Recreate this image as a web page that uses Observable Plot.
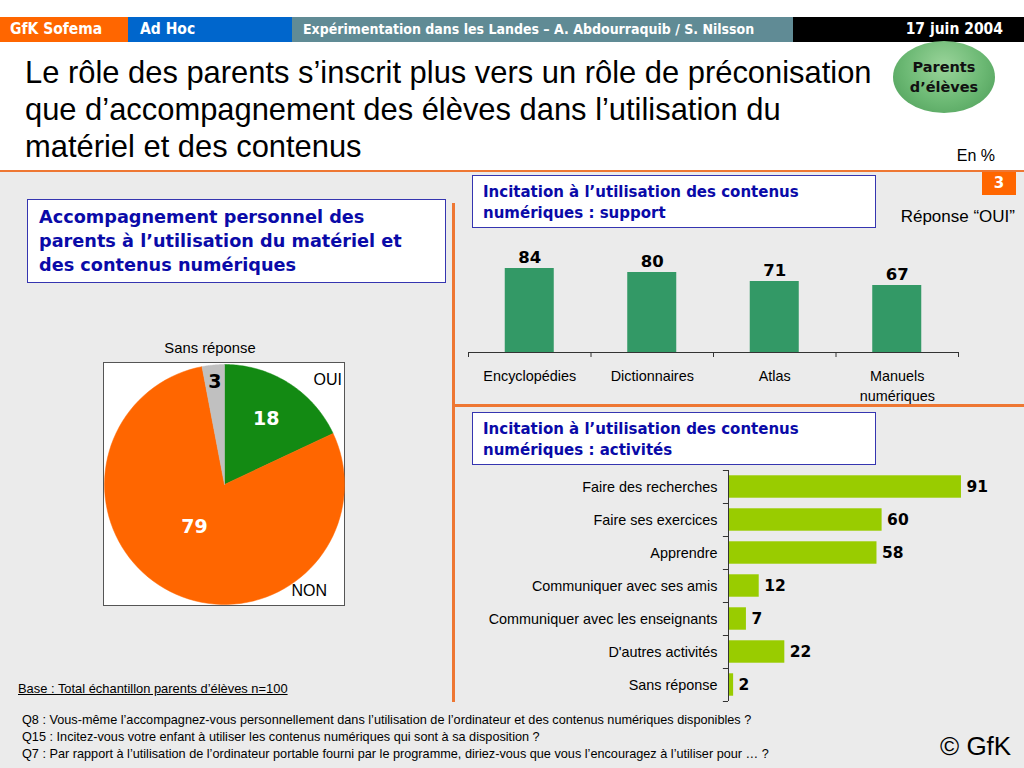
<!DOCTYPE html>
<html><head><meta charset="utf-8">
<script src="https://cdn.jsdelivr.net/npm/d3@7"></script>
<script src="https://cdn.jsdelivr.net/npm/@observablehq/plot@0.6"></script>
<style>
body{margin:0;background:#fff;}
#slide{position:relative;width:1024px;height:768px;overflow:hidden;background:#fff;font-family:"Liberation Sans",Arial,sans-serif;}
.abs{position:absolute;}
.hdr{position:absolute;top:17px;height:25px;line-height:25px;color:#fff;font-family:"DejaVu Sans Condensed","DejaVu Sans",sans-serif;font-weight:bold;font-size:15.5px;white-space:nowrap;}
.box{position:absolute;background:#fff;border:1px solid #3535b0;color:#0a0aa8;font-family:"DejaVu Sans",Verdana,sans-serif;font-weight:bold;box-sizing:border-box;}
.plot{position:absolute;}
</style></head>
<body>
<div id="slide">
  <div class="hdr" style="left:0;width:128px;background:#ff6600;padding-left:10px;box-sizing:border-box;">GfK Sofema</div>
  <div class="hdr" style="left:128px;width:164px;background:#0066cc;padding-left:12px;box-sizing:border-box;">Ad Hoc</div>
  <div class="hdr" style="left:292px;width:501px;background:#608b95;padding-left:11px;box-sizing:border-box;font-size:14px;">Expérimentation dans les Landes – A. Abdourraquib / S. Nilsson</div>
  <div class="hdr" style="left:793px;width:231px;background:#000;text-align:right;padding-right:21px;box-sizing:border-box;">17 juin 2004</div>

  <div class="abs" style="left:25px;top:54px;font-size:30.9px;line-height:37px;color:#000;white-space:nowrap;">Le rôle des parents s’inscrit plus vers un rôle de préconisation<br>que d’accompagnement des élèves dans l’utilisation du<br>matériel et des contenus</div>

  <div class="abs" style="left:893px;top:41px;width:102px;height:72px;border-radius:50%;background:radial-gradient(ellipse at 50% 35%,#9ad49a 0%,#6bb873 55%,#4a9a55 100%);display:flex;align-items:center;justify-content:center;text-align:center;font-family:'DejaVu Sans',sans-serif;font-weight:bold;font-size:14.5px;line-height:20px;color:#111;">Parents<br>d’élèves</div>

  <div class="abs" style="right:29px;top:147px;font-size:16px;color:#000;">En %</div>

  <div class="abs" style="left:0;top:170px;width:1024px;height:598px;background:#ebebeb;border-top:2px solid #ee7733;box-sizing:border-box;"></div>
  <div class="abs" style="left:452px;top:203px;width:3px;height:499px;background:#ee7733;"></div>
  <div class="abs" style="left:453px;top:404px;width:571px;height:3px;background:#ee7733;"></div>

  <div class="abs" style="left:982px;top:172px;width:34px;height:23px;background:#ff6600;color:#fff;font-family:'DejaVu Sans',sans-serif;font-weight:bold;font-size:15px;line-height:23px;text-align:center;">3</div>
  <div class="abs" style="right:9px;top:207px;font-size:17px;color:#000;">Réponse “OUI”</div>

  <div class="box" style="left:27px;top:199px;width:419px;height:84px;padding:5px 0 0 11px;font-size:17.7px;line-height:24px;">Accompagnement personnel des<br>parents à l’utilisation du matériel et<br>des contenus numériques</div>

  <div class="box" style="left:472px;top:175px;width:404px;height:53px;padding:6px 0 0 10px;font-size:15px;line-height:21px;">Incitation à l’utilisation des contenus<br>numériques : support</div>

  <div class="box" style="left:472px;top:412px;width:404px;height:53px;padding:6px 0 0 10px;font-size:15px;line-height:21px;">Incitation à l’utilisation des contenus<br>numériques : activités</div>

  <div class="abs" style="left:103px;top:362px;width:242px;height:244px;background:#fff;border:1px solid #555;box-sizing:border-box;"></div>
  <div class="abs" style="left:120px;top:340px;width:180px;text-align:center;font-size:14.8px;color:#000;">Sans réponse</div>
  <div class="abs" style="left:290px;top:371px;width:52px;text-align:right;font-size:16px;color:#000;">OUI</div>
  <div class="abs" style="left:270px;top:582px;width:57px;text-align:right;font-size:16px;color:#000;">NON</div>

  <div id="pie" class="plot" style="left:104px;top:364px;"></div>
  <div id="support" class="plot" style="left:458px;top:240px;"></div>
  <div id="acts" class="plot" style="left:460px;top:465px;"></div>

  <div class="abs" style="left:18px;top:681px;font-size:12.9px;text-decoration:underline;color:#000;">Base : Total échantillon parents d’élèves n=100</div>
  <div class="abs" style="left:22px;top:712px;font-size:12.7px;line-height:17px;color:#000;white-space:nowrap;">Q8 : Vous-même l’accompagnez-vous personnellement dans l’utilisation de l’ordinateur et des contenus numériques disponibles ?<br>Q15 : Incitez-vous votre enfant à utiliser les contenus numériques qui sont à sa disposition ?<br>Q7 : Par rapport à l’utilisation de l’ordinateur portable fourni par le programme, diriez-vous que vous l’encouragez à l’utiliser pour … ?</div>
  <div class="abs" style="left:940px;top:731px;font-size:26px;color:#000;">© GfK</div>
</div>
<script>
// ---- Data ----
const pieCategories = ["OUI", "NON", "Sans réponse"];
const pieValues = [18, 79, 3];

const supportCategories = ["Encyclopédies", "Dictionnaires", "Atlas", "Manuels\nnumériques"];
const supportValues = [84, 80, 71, 67];

const activityCategories = ["Faire des recherches", "Faire ses exercices", "Apprendre", "Communiquer avec ses amis", "Communiquer avec les enseignants", "D'autres activités", "Sans réponse"];
const activityValues = [91, 60, 58, 12, 7, 22, 2];

// ---- Styles ----
const pieColors = {"OUI": "#138a13", "NON": "#ff6600", "Sans réponse": "#c0c0c0"};
const pieLabelColors = {"OUI": "#fff", "NON": "#fff", "Sans réponse": "#000"};
const boldFont = "DejaVu Sans, Verdana, sans-serif";
const labelFont = "Liberation Sans, Arial, sans-serif";

// ---- Pie ----
const arcs = d3.pie().sort(null)(pieValues).map((a, i) => ({...a, name: pieCategories[i]}));
const pieMarks = arcs.map(a => {
  const steps = 90;
  const pts = [{x: 0, y: 0}];
  for (let k = 0; k <= steps; k++) {
    const t = a.startAngle + (a.endAngle - a.startAngle) * k / steps;
    pts.push({x: Math.sin(t), y: Math.cos(t)});
  }
  pts.push({x: 0, y: 0});
  return Plot.line(pts, {x: "x", y: "y", fill: pieColors[a.name], stroke: pieColors[a.name], strokeWidth: 0.5, curve: "linear"});
});
const labelR = v => v < 5 ? 0.86 : v < 50 ? 0.65 : 0.43;
const labelShift = v => v > 50 ? 0.15 : 0;
const pieLabelData = arcs.map(a => {
  const m = (a.startAngle + a.endAngle) / 2 + labelShift(a.value);
  return {name: a.name, value: a.value, x: labelR(a.value) * Math.sin(m), y: labelR(a.value) * Math.cos(m)};
});
document.getElementById("pie").append(Plot.plot({
  width: 240, height: 240, margin: 0,
  x: {domain: [-1, 1], axis: null}, y: {domain: [-1, 1], axis: null},
  style: {background: "transparent", overflow: "visible"},
  marks: [
    ...pieMarks,
    Plot.text(pieLabelData, {x: "x", y: "y", text: d => String(d.value), fill: d => pieLabelColors[d.name], fontSize: 19, fontWeight: "bold", fontFamily: boldFont})
  ]
}));

// ---- Support bars ----
const sup = supportCategories.map((c, i) => ({cat: c, value: supportValues[i], i}));
document.getElementById("support").append(Plot.plot({
  width: 510, height: 170, marginLeft: 10, marginRight: 10, marginTop: 12, marginBottom: 58,
  x: {domain: [0, 4], axis: null}, y: {domain: [0, 100], axis: null},
  style: {background: "transparent", overflow: "visible"},
  marks: [
    Plot.rectY(sup, {x1: d => d.i + 0.3, x2: d => d.i + 0.7, y: "value", fill: "#339966"}),
    Plot.ruleY([0], {x1: 0, x2: 4, stroke: "#333", strokeWidth: 1}),
    Plot.ruleX(d3.range(5), {y1: 0, y2: -5, stroke: "#333", strokeWidth: 1}),
    Plot.text(sup, {x: d => d.i + 0.5, y: "value", text: d => String(d.value), dy: -11, fontSize: 16.5, fontWeight: "bold", fontFamily: boldFont, fill: "#000"}),
    Plot.text(sup, {x: d => d.i + 0.5, y: 0, text: "cat", dy: 15, lineAnchor: "top", lineHeight: 1.35, fontSize: 14.4, fontFamily: labelFont, fill: "#000"})
  ]
}));

// ---- Activities bars ----
const act = activityCategories.map((c, i) => ({cat: c, value: activityValues[i], i}));
document.getElementById("acts").append(Plot.plot({
  width: 564, height: 240, marginLeft: 268, marginRight: 40, marginTop: 5, marginBottom: 4,
  x: {domain: [0, 100], axis: null}, y: {domain: [0, 7], reverse: true, axis: null},
  style: {background: "transparent", overflow: "visible"},
  marks: [
    Plot.rectX(act, {y1: d => d.i + 0.16, y2: d => d.i + 0.84, x: "value", fill: "#99cc00"}),
    Plot.ruleX([0], {y1: 0, y2: 7, stroke: "#333", strokeWidth: 1}),
    Plot.ruleY(d3.range(8), {x1: -2, x2: 0, stroke: "#333", strokeWidth: 1}),
    Plot.text(act, {x: "value", y: d => d.i + 0.5, text: d => String(d.value), dx: 5, textAnchor: "start", fontSize: 15.5, fontWeight: "bold", fontFamily: boldFont, fill: "#000"}),
    Plot.text(act, {x: 0, y: d => d.i + 0.5, text: "cat", dx: -11, textAnchor: "end", fontSize: 14.4, fontFamily: labelFont, fill: "#000"})
  ]
}));
</script>
</body></html>
